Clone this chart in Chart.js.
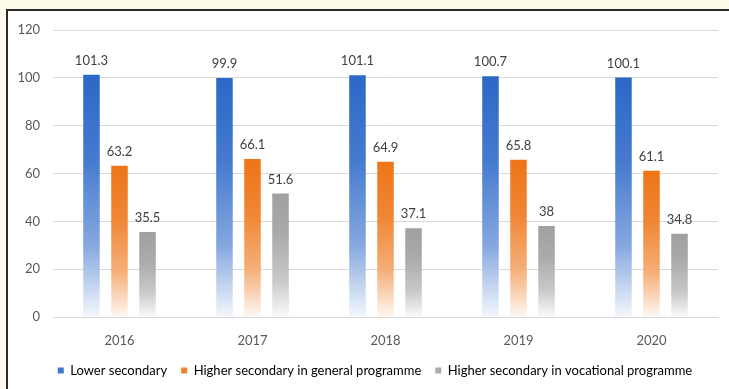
<!DOCTYPE html>
<html>
<head>
<meta charset="utf-8">
<script src="https://cdn.jsdelivr.net/npm/chart.js@4.4.1/dist/chart.umd.min.js"></script>
<style>
  html, body { margin: 0; padding: 0; background: #fefbec; }
  #frame {
    position: absolute; left: 6px; top: 9px; right: -4px; bottom: -4px;
    background: #fff; border-left: 2px solid #2a2a2a; border-top: 2px solid #2a2a2a;
  }
  #wrap { position: absolute; left: 0; top: 0; width: 729px; height: 389px; }
</style>
</head>
<body>
<div id="frame"></div>
<div id="wrap"><canvas id="grafico" width="729" height="389"></canvas></div>
<script>
const anios = ["2016", "2017", "2018", "2019", "2020"];
const secundariaBaja = [101.3, 99.9, 101.1, 100.7, 100.1];
const secundariaGeneral = [63.2, 66.1, 64.9, 65.8, 61.1];
const secundariaVocacional = [35.5, 51.6, 37.1, 38, 34.8];
const ticksY = [0, 20, 40, 60, 80, 100, 120];

const FUENTE = "Lato, 'Open Sans', sans-serif";

// mezcla un color rgb con blanco
function tinte(rgb, t) {
  const c = rgb.map(v => Math.round(v + (255 - v) * t));
  return `rgb(${c[0]},${c[1]},${c[2]})`;
}

// degradado vertical desde la parte alta de cada barra hasta el cero
function relleno(rgb) {
  const paradas = [[0, 0], [0.35, 0.12], [0.5, 0.25], [0.7, 0.42], [0.85, 0.68], [1, 0.95]];
  return ctx => {
    const chart = ctx.chart;
    const y = chart.scales.y;
    if (!y || ctx.raw == null || !chart.chartArea) return tinte(rgb, 0);
    const arriba = y.getPixelForValue(ctx.raw);
    const base = y.getPixelForValue(0);
    const g = chart.ctx.createLinearGradient(0, arriba, 0, base);
    paradas.forEach(([p, t]) => g.addColorStop(p, tinte(rgb, t)));
    return g;
  };
}

const AZUL = [44, 104, 200];
const NARANJA = [238, 117, 24];
const GRIS = [160, 160, 160];

// etiquetas de valor sobre cada barra
const etiquetas = {
  id: "etiquetas",
  afterDatasetsDraw(chart) {
    const ctx = chart.ctx;
    ctx.save();
    ctx.font = `13px ${FUENTE}`;
    ctx.fillStyle = "#404040";
    ctx.textAlign = "center";
    ctx.textBaseline = "alphabetic";
    chart.data.datasets.forEach((ds, i) => {
      chart.getDatasetMeta(i).data.forEach((bar, j) => {
        ctx.fillText(String(ds.data[j]), bar.x, bar.y - 10);
      });
    });
    ctx.restore();
  }
};

// corre la leyenda un poco a la derecha
const moverLeyenda = {
  id: "moverLeyenda",
  afterLayout(chart) {
    chart.legend.left += 16;
    chart.legend.right += 16;
  }
};

new Chart(document.getElementById("grafico"), {
  type: "bar",
  data: {
    labels: anios,
    datasets: [
      { label: "Lower secondary", data: secundariaBaja, backgroundColor: relleno(AZUL) },
      { label: "Higher secondary in general programme", data: secundariaGeneral, backgroundColor: relleno(NARANJA) },
      { label: "Higher secondary in vocational programme", data: secundariaVocacional, backgroundColor: relleno(GRIS) }
    ]
  },
  options: {
    responsive: false,
    animation: false,
    categoryPercentage: 0.632,
    barPercentage: 0.59,
    layout: { padding: { left: 0, right: 11, top: 30, bottom: 2 } },
    scales: {
      x: {
        grid: { display: false },
        border: { color: "#d9d9d9" },
        ticks: { color: "#595959", font: { size: 13, family: FUENTE }, padding: 8 },
        afterFit: s => { s.height = 33; }
      },
      y: {
        min: 0,
        max: 120,
        afterBuildTicks: s => { s.ticks = ticksY.map(v => ({ value: v })); },
        grid: { color: "#d9d9d9", drawTicks: false },
        border: { display: false },
        ticks: { color: "#595959", font: { size: 13, family: FUENTE }, padding: 13 },
        afterFit: s => { s.width = 53; }
      }
    },
    plugins: {
      legend: {
        position: "bottom",
        labels: {
          boxWidth: 6,
          boxHeight: 6,
          padding: 14,
          color: "#595959",
          font: { size: 13, family: FUENTE },
          generateLabels: chart => chart.data.datasets.map((ds, i) => ({
            text: ds.label,
            fillStyle: tinte([AZUL, NARANJA, GRIS][i], 0.1),
            strokeStyle: "transparent",
            lineWidth: 0,
            datasetIndex: i
          }))
        }
      },
      tooltip: { enabled: false }
    }
  },
  plugins: [etiquetas, moverLeyenda]
});
</script>
</body>
</html>
